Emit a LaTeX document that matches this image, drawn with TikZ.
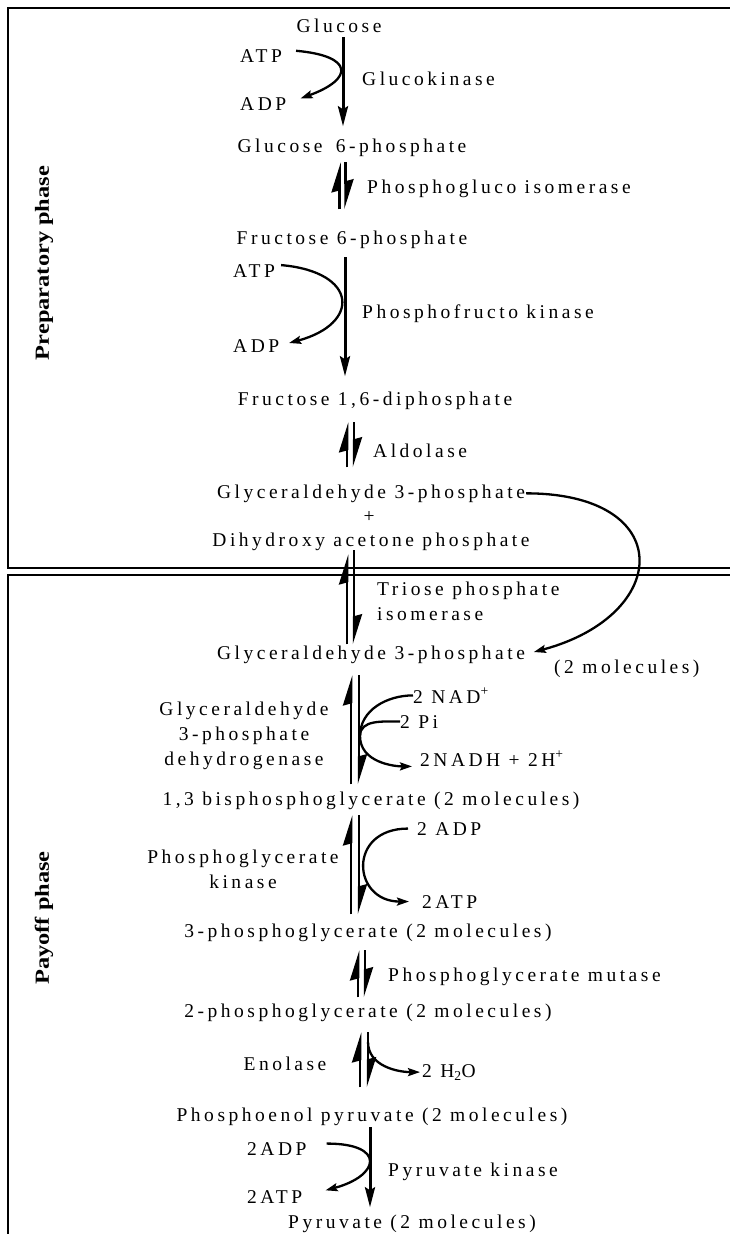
\documentclass[tikz,border=0pt]{standalone}
\usepackage{fontspec}
\setmainfont{Liberation Serif}[LetterSpace=18]
\newfontfamily\phasefont{Liberation Serif}
\usepackage{graphicx}
\usetikzlibrary{arrows.meta}

\begin{document}
\begin{tikzpicture}[x=1pt,y=1pt,
  chem/.style={inner sep=0pt,anchor=base,font=\fontsize{19.5}{25}\selectfont},
  chemw/.style={chem,anchor=base west},
  phase/.style={line width=2.5pt},
  phaselabel/.style={inner sep=0pt,rotate=90,font=\phasefont\bfseries\fontsize{20}{24}\selectfont},
  main/.style={line width=3pt,-{Stealth[length=20pt,width=10pt,inset=3pt]}},
  eq/.style={line width=2.5pt,-{Stealth[harpoon,length=26pt,width=16pt,inset=2pt]}},
  side/.style={line width=2.3pt},
  sidearr/.style={side,-{Stealth[length=12pt,width=8pt,inset=2pt]}}]
\useasboundingbox (0,0) rectangle (730,-1234);
% phase frames
\draw[phase] (730,-8) -- (8,-8) -- (8,-568) -- (730,-568);
\draw[phase] (730,-575) -- (8,-575) -- (8,-1234);
\node[phaselabel] (prep) at (44,-263) {\scalebox{1.22}[1]{Preparatory phase}};
\node[phaselabel] (payoff) at (44,-918) {\scalebox{1.22}[1]{Payoff phase}};
% preparatory phase
\node[chem] (glc) at (339,-32) {Glucose};
\node[chemw] (atp1) at (240,-62) {ATP};
\node[chemw] (adp1) at (240,-110) {ADP};
\node[chemw] (gk) at (362,-85) {Glucokinase};
\node[chem] (g6p) at (352,-152) {Glucose\hspace{5pt} 6-phosphate};
\node[chemw] (pgi) at (367,-193) {Phosphogluco isomerase};
\node[chem] (f6p) at (352,-244) {Fructose 6-phosphate};
\node[chemw] (atp2) at (233,-277) {ATP};
\node[chemw] (adp2) at (233,-352) {ADP};
\node[chemw] (pfk) at (362,-318) {Phosphofructo kinase};
\node[chem] (f16) at (375,-405) {Fructose 1,6-diphosphate};
\node[chemw] (ald) at (373,-457) {Aldolase};
\node[chem] (g3pa) at (371,-498) {Glyceraldehyde 3-phosphate};
\node[chem] (plus) at (369,-522) {+};
\node[chem] (dhap) at (371,-546) {Dihydroxy acetone phosphate};
% payoff phase
\node[chemw,align=left] (tpi) at (377,-620) {Triose phosphate\\isomerase};
\node[chem] (g3pb) at (371,-659) {Glyceraldehyde 3-phosphate};
\node[chemw] (mol) at (554,-673) {(2 molecules)};
\node[chemw] (nad) at (413,-703) {2 NAD\textsuperscript{+}};
\node[chemw] (pii) at (400,-728) {2 Pi};
\node[chemw] (nadh) at (420,-766) {2NADH + 2H\textsuperscript{+}};
\node[chem,align=center] (gapdh) at (244,-765) {Glyceraldehyde\\3-phosphate\\dehydrogenase};
\node[chem] (bpg) at (371,-805) {1,3 bisphosphoglycerate (2 molecules)};
\node[chemw] (adp3) at (417,-835) {2 ADP};
\node[chem,align=center] (pgk) at (243,-888) {Phosphoglycerate\\kinase};
\node[chemw] (atp3) at (422,-908) {2ATP};
\node[chem] (pg3) at (368,-937) {3-phosphoglycerate (2 molecules)};
\node[chemw] (pgm) at (388,-981) {Phosphoglycerate mutase};
\node[chem] (pg2) at (368,-1017) {2-phosphoglycerate (2 molecules)};
\node[chem] (eno) at (285,-1070) {Enolase};
\node[chemw] (h2o) at (422,-1077) {2 H\textsubscript{2}O};
\node[chem] (pep) at (372,-1121) {Phosphoenol pyruvate (2 molecules)};
\node[chemw] (adp4) at (247,-1155) {2ADP};
\node[chemw] (pk) at (388,-1176) {Pyruvate kinase};
\node[chemw] (atp4) at (247,-1203) {2ATP};
\node[chem] (pyr) at (412,-1228) {Pyruvate (2 molecules)};
\coordinate (gj) at (360,-736);
\coordinate (ej) at (368,-1042);
% main chain
\draw[main,shorten <=5pt,shorten >=12pt] ([xshift=4pt]glc.south) -- ([xshift=4pt]glc.south |- g6p.north);
\draw[eq,shorten <=21pt,shorten >=6pt] ([xshift=-12.5pt]f6p.north) -- ([xshift=-12.5pt]f6p.north |- g6p.south);
\draw[eq,shorten <=6pt,shorten >=21pt] ([xshift=-6.5pt]g6p.south) -- ([xshift=-6.5pt]g6p.south |- f6p.north);
\draw[main,shorten <=9pt,shorten >=15pt] ([xshift=-7pt]f6p.south) -- ([xshift=-7pt]f6p.south |- f16.north);
\draw[eq,shorten <=17pt,shorten >=13pt] ([xshift=-28pt]f16.south |- g3pa.north) -- ([xshift=-28pt]f16.south);
\draw[eq,shorten <=13pt,shorten >=17pt] ([xshift=-21pt]f16.south) -- ([xshift=-21pt]f16.south |- g3pa.north);
\draw[eq,shorten <=1pt,shorten >=4pt] ([xshift=-24pt]dhap.south |- g3pb.north) -- ([xshift=-24pt]dhap.south);
\draw[eq,shorten >=1pt] ([xshift=-17pt]dhap.south) -- ([xshift=-17pt]dhap.south |- g3pb.north);
\draw[eq,shorten <=7pt,shorten >=12pt] ([xshift=-20pt]g3pb.south |- bpg.north) -- ([xshift=-20pt]g3pb.south);
\draw[eq,shorten <=12pt,shorten >=7pt] ([xshift=-12pt]g3pb.south) -- ([xshift=-12pt]g3pb.south |- bpg.north);
\draw[eq,shorten <=9pt,shorten >=6pt] ([xshift=-20pt]bpg.south |- pg3.north) -- ([xshift=-20pt]bpg.south);
\draw[eq,shorten <=6pt,shorten >=9pt] ([xshift=-12pt]bpg.south) -- ([xshift=-12pt]bpg.south |- pg3.north);
\draw[eq,shorten <=6pt,shorten >=9pt] ([xshift=-10pt]pg3.south |- pg2.north) -- ([xshift=-10pt]pg3.south);
\draw[eq,shorten <=9pt,shorten >=6pt] ([xshift=-3pt]pg3.south) -- ([xshift=-3pt]pg3.south |- pg2.north);
\draw[eq,shorten <=20pt,shorten >=11pt] ([xshift=-8pt]pg2.south |- pep.north) -- ([xshift=-8pt]pg2.south);
\draw[eq,shorten <=11pt,shorten >=20pt] (pg2.south) -- (pg2.south |- pep.north);
\draw[main,shorten <=2pt,shorten >=7pt] ([xshift=-2pt]pep.south) -- ([xshift=-2pt]pep.south |- pyr.north);
% side reactions
\draw[sidearr,shorten <=14pt,shorten >=15pt] ([yshift=6pt]atp1.east) to[out=-5,in=20,distance=72pt] (adp1.east);
\draw[sidearr,shorten <=6pt,shorten >=10pt] ([yshift=6pt]atp2.east) to[out=-5,in=15,distance=84pt] (adp2.east);
\draw[sidearr,shorten <=1pt,shorten >=9pt] (g3pa.east) to[out=0,in=15,distance=152pt] (g3pb.east);
\draw[side] (nad.west) to[out=180,in=90] (gj);
\draw[side] (pii.west) to[out=180,in=90] (gj);
\draw[sidearr,shorten >=8pt] (gj) to[out=-90,in=180] ([yshift=-8pt]nadh.west);
\draw[sidearr,shorten <=9pt,shorten >=13pt] (adp3.west) to[out=180,in=180,distance=70pt] (atp3.west);
\draw[sidearr,shorten >=2pt] (ej) to[out=-90,in=180] (h2o.west);
\draw[sidearr,shorten <=20pt,shorten >=24pt] ([yshift=5pt]adp4.east) to[out=0,in=15,distance=80pt] (atp4.east);
\end{tikzpicture}
\end{document}
